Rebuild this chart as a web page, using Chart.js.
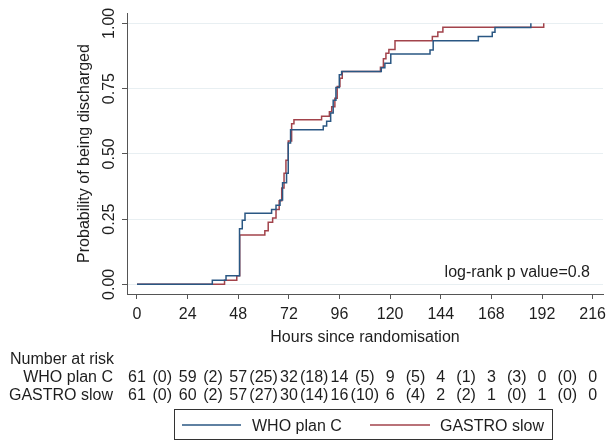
<!DOCTYPE html>
<html>
<head>
<meta charset="utf-8">
<script src="https://cdn.jsdelivr.net/npm/chart.js@4"></script>
<style>
    html, body { margin: 0; padding: 0; background: #fff; }
    #wrap { width: 607px; height: 443px; }
</style>
</head>
<body>
<div id="wrap"><canvas id="kmChart" width="607" height="443"></canvas></div>
<script>
/* -------- Data -------- */
const xTicks = [0, 24, 48, 72, 96, 120, 144, 168, 192, 216];
const yTicks = [0, 0.25, 0.5, 0.75, 1];

// WHO plan C: time (hours) and cumulative probability of discharge after each step
const whoTimes = [0, 35.7, 42.2, 48.6, 49.9, 51.2, 63.8, 65.9, 67.8, 69.0, 70.9, 71.7, 72.8,
    88.3, 89.9, 91.8, 93.0, 94.3, 95.9, 97.0, 115.8, 117.5, 120.3, 138.9, 140.4,
    161.8, 168.4, 169.7, 186.7];
const whoProb = [0, 0.016, 0.033, 0.213, 0.246, 0.272, 0.287, 0.303, 0.323, 0.389, 0.426, 0.541, 0.592,
    0.607, 0.625, 0.656, 0.705, 0.754, 0.803, 0.815, 0.830, 0.847, 0.882, 0.898, 0.933,
    0.949, 0.966, 0.984, 1.0];

// GASTRO slow
const gastroTimes = [0, 41.5, 47.3, 48.7, 60.6, 62.2, 64.3, 65.9, 67.4, 68.6, 69.7, 70.6, 71.7, 73.3, 74.4,
    87.5, 91.2, 92.3, 93.8, 94.9, 96.2, 97.3, 115.4, 116.8, 118.0, 119.4, 122.3,
    140.0, 142.6, 145.0, 192.8];
const gastroProb = [0, 0.016, 0.033, 0.189, 0.205, 0.238, 0.254, 0.287, 0.320, 0.369, 0.426, 0.475, 0.549, 0.615, 0.631,
    0.644, 0.661, 0.680, 0.713, 0.758, 0.790, 0.815, 0.832, 0.864, 0.885, 0.900, 0.933,
    0.949, 0.967, 0.985, 1.0];

// Number at risk at each x tick, and events in each interval
const whoAtRisk = [61, 59, 57, 32, 14, 9, 4, 3, 0, 0];
const whoEvents = [0, 2, 25, 18, 5, 5, 1, 3, 0];
const gastroAtRisk = [61, 60, 57, 30, 16, 6, 2, 1, 1, 0];
const gastroEvents = [0, 2, 27, 14, 10, 4, 2, 0, 0];

const seriesNames = ['WHO plan C', 'GASTRO slow'];
const pValueText = 'log-rank p value=0.8';

/* -------- Style -------- */
const FONT = 'Liberation Sans, Arial, Helvetica, sans-serif';
const TEXT = '#1e1e1e';
const AXIS = '#555555';
const COLORS = ['#2a5783', '#a2434b'];

Chart.defaults.font.family = FONT;
Chart.defaults.font.size = 16;
Chart.defaults.color = TEXT;

function toPoints(times, probs) {
    return times.map((t, i) => ({ x: t, y: probs[i] }));
}

/* -------- Risk table, legend and annotation -------- */
const extrasPlugin = {
    id: 'extras',
    afterDraw(chart) {
        const ctx = chart.ctx;
        const xs = chart.scales.x;
        const area = chart.chartArea;
        ctx.save();
        ctx.fillStyle = TEXT;
        ctx.font = '16px ' + FONT;

        // p value
        ctx.textAlign = 'right';
        ctx.textBaseline = 'alphabetic';
        ctx.fillText(pValueText, area.right - 13, 277);

        // number at risk
        ctx.textAlign = 'left';
        ctx.fillText('Number at risk', 10, 364);
        const rows = [
            { name: seriesNames[0], risk: whoAtRisk, ev: whoEvents, y: 382 },
            { name: seriesNames[1], risk: gastroAtRisk, ev: gastroEvents, y: 400 }
        ];
        rows.forEach(r => {
            ctx.textAlign = 'right';
            ctx.fillText(r.name, 113, r.y);
            ctx.textAlign = 'center';
            r.risk.forEach((n, i) => {
                ctx.fillText(String(n), xs.getPixelForValue(xTicks[i]), r.y);
            });
            r.ev.forEach((n, i) => {
                const mid = (xTicks[i] + xTicks[i + 1]) / 2;
                ctx.fillText('(' + n + ')', xs.getPixelForValue(mid), r.y);
            });
        });

        // legend box
        ctx.strokeStyle = '#333';
        ctx.lineWidth = 1;
        ctx.strokeRect(174.5, 409.5, 378, 30);
        const items = [
            { x1: 182, x2: 241, tx: 252 },
            { x1: 370, x2: 430, tx: 440 }
        ];
        chart.data.datasets.forEach((ds, i) => {
            const it = items[i];
            ctx.strokeStyle = ds.borderColor;
            ctx.lineWidth = 1.5;
            ctx.beginPath();
            ctx.moveTo(it.x1, 425);
            ctx.lineTo(it.x2, 425);
            ctx.stroke();
            ctx.textAlign = 'left';
            ctx.fillStyle = TEXT;
            ctx.fillText(ds.label, it.tx, 431);
        });
        ctx.restore();
    }
};

/* -------- Chart -------- */
const ctx = document.getElementById('kmChart').getContext('2d');
new Chart(ctx, {
    type: 'line',
    data: {
        datasets: [
            {
                label: seriesNames[0],
                data: toPoints(whoTimes, whoProb),
                borderColor: COLORS[0],
                borderWidth: 1.5,
                stepped: true,
                pointRadius: 0,
                fill: false
            },
            {
                label: seriesNames[1],
                data: toPoints(gastroTimes, gastroProb),
                borderColor: COLORS[1],
                borderWidth: 1.5,
                stepped: true,
                pointRadius: 0,
                fill: false
            }
        ]
    },
    options: {
        responsive: false,
        animation: false,
        layout: { padding: { top: 13, right: 4, left: 0, bottom: 0 } },
        plugins: {
            legend: { display: false },
            tooltip: { enabled: false }
        },
        scales: {
            x: {
                type: 'linear',
                min: -4.74,
                max: 220.9,
                afterBuildTicks: s => { s.ticks = xTicks.map(v => ({ value: v })); },
                afterFit: s => {
                    s.height = 149;
                    s.paddingLeft = 0;
                    s.paddingRight = 0;
                },
                ticks: {
                    autoSkip: false,
                    maxRotation: 0,
                    padding: 6,
                    color: TEXT,
                    font: { size: 16 }
                },
                grid: {
                    drawOnChartArea: false,
                    drawTicks: true,
                    tickLength: 5,
                    tickColor: AXIS
                },
                border: { color: AXIS, width: 1 },
                title: {
                    display: true,
                    text: 'Hours since randomisation',
                    color: TEXT,
                    font: { size: 16 },
                    padding: { top: 0, bottom: 95.4 }
                }
            },
            y: {
                type: 'linear',
                min: -0.037,
                max: 1.0395,
                afterBuildTicks: s => { s.ticks = yTicks.map(v => ({ value: v })); },
                afterFit: s => {
                    s.width = 127;
                    s.paddingTop = 0;
                    s.paddingBottom = 0;
                },
                ticks: {
                    autoSkip: false,
                    minRotation: 90,
                    maxRotation: 90,
                    crossAlign: 'center',
                    padding: -3.6,
                    color: TEXT,
                    font: { size: 16 },
                    callback: v => Number(v).toFixed(2)
                },
                grid: {
                    color: '#e8eff2',
                    lineWidth: 1,
                    tickLength: 5,
                    tickColor: AXIS
                },
                border: { color: AXIS, width: 1 },
                title: {
                    display: true,
                    text: 'Probability of being discharged',
                    color: TEXT,
                    font: { size: 16 },
                    padding: { top: 74.7, bottom: 0 }
                }
            }
        }
    },
    plugins: [extrasPlugin]
});
</script>
</body>
</html>
